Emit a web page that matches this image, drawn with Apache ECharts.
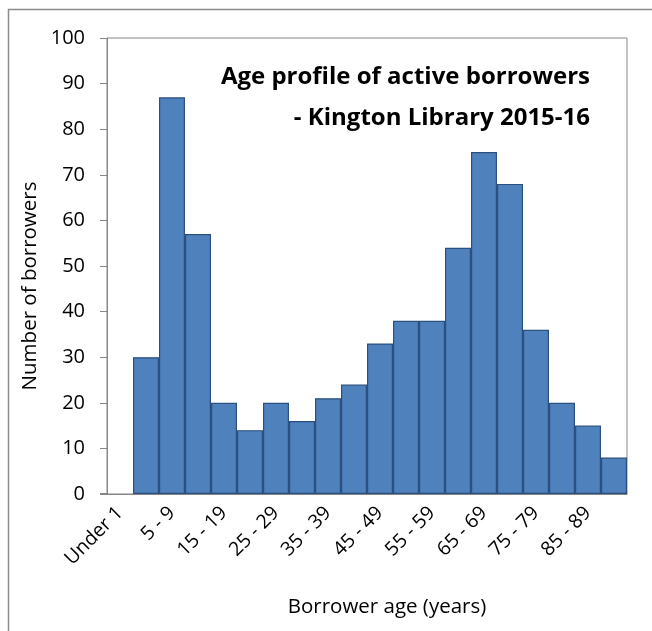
<!DOCTYPE html>
<html>
<head>
<meta charset="utf-8">
<script src="https://cdn.jsdelivr.net/npm/echarts@6/dist/echarts.min.js"></script>
<style>
	html,body{margin:0;padding:0;background:#fff;}
	#chart{width:652px;height:631px;}
</style>
</head>
<body>
<div id="chart"></div>
<script>
	var ageGroups = ['Under 1','1 - 4','5 - 9','10 - 14','15 - 19','20 - 24','25 - 29','30 - 34','35 - 39','40 - 44',
		'45 - 49','50 - 54','55 - 59','60 - 64','65 - 69','70 - 74','75 - 79','80 - 84','85 - 89','90+'];
	//Under 1 没有柱子
	var borrowers = [null,30,87,57,20,14,20,16,21,24,33,38,38,54,75,68,36,20,15,8];
	var titleLines = ['Age profile of active borrowers','- Kington Library 2015-16'];

	var font = '"Open Sans", "DejaVu Sans", sans-serif';
	var axisGrey = '#868686';

	var option = {
		backgroundColor:'#fff',
		animation:false,
		grid:{
			left:107,
			right:25,
			top:38,
			bottom:137,
			show:true,
			borderColor:axisGrey,
			borderWidth:1
		},
		xAxis:{
			type:'category',
			data:ageGroups,
			axisLine:{lineStyle:{color:axisGrey,width:1}},
			axisTick:{
				interval:0,
				length:7,
				lineStyle:{color:axisGrey}
			},
			axisLabel:{
				interval:1,
				rotate:45,
				margin:16,
				color:'#000',
				fontFamily:font,
				fontSize:19.5
			}
		},
		yAxis:{
			type:'value',
			min:0,
			max:100,
			interval:10,
			axisLine:{show:true,lineStyle:{color:axisGrey,width:1}},
			axisTick:{show:true,length:7,lineStyle:{color:axisGrey}},
			splitLine:{show:false},
			axisLabel:{
				margin:22,
				color:'#000',
				fontFamily:font,
				fontSize:20
			}
		},
		series:[{
			type:'bar',
			data:borrowers,
			barCategoryGap:'0%',
			itemStyle:{
				color:'#4F81BD',
				borderColor:'#2B4F7E',
				borderWidth:1.2
			}
		}],
		graphic:[
			{
				//外框
				type:'rect',
				silent:true,
				shape:{x:8.5,y:9.5,width:700,height:700},
				style:{fill:'none',stroke:'#8c8c8c',lineWidth:1.5}
			},
			{
				//x轴左端伸出
				type:'line',
				silent:true,
				shape:{x1:100,y1:493.5,x2:107,y2:493.5},
				style:{stroke:axisGrey,lineWidth:1}
			},
			{
				type:'text',
				x:590,
				y:77,
				style:{text:titleLines[0],fill:'#000',font:'bold 24px ' + font,align:'right',verticalAlign:'middle'}
			},
			{
				type:'text',
				x:590,
				y:118,
				style:{text:titleLines[1],fill:'#000',font:'bold 24px ' + font,align:'right',verticalAlign:'middle'}
			},
			{
				type:'text',
				x:387,
				y:607,
				style:{text:'Borrower age (years)',fill:'#000',font:'20.5px ' + font,align:'center',verticalAlign:'middle'}
			},
			{
				type:'text',
				rotation:Math.PI/2,
				x:30,
				y:286,
				style:{text:'Number of borrowers',fill:'#000',font:'20.5px ' + font,align:'center',verticalAlign:'middle'}
			}
		]
	};

	var myChart = echarts.init(document.getElementById('chart'));
	myChart.setOption(option);
	//窗口变动，表格刷新
	window.addEventListener('resize',function(){myChart.resize();});
</script>
</body>
</html>
